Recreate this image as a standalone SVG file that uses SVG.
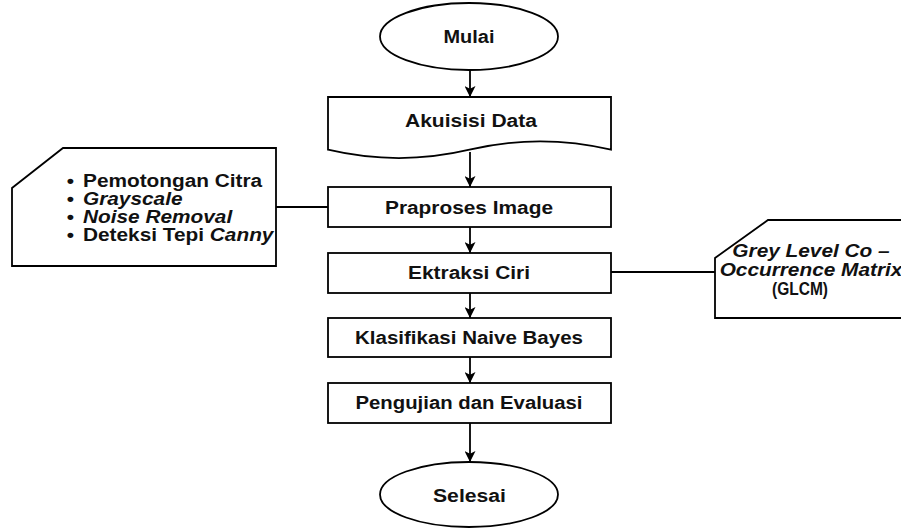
<svg xmlns="http://www.w3.org/2000/svg" width="901" height="529" viewBox="0 0 901 529">
<style>
.shape{fill:#fff;stroke:#000;stroke-width:1.8}
.lbl{font-family:"Liberation Sans",Arial,sans-serif;font-weight:bold;font-size:17.5px;fill:#111}
.mid{text-anchor:middle}
.conn{stroke:#000;stroke-width:1.8;fill:none}
</style>
<defs>
<marker id="arr" viewBox="0 0 10 10" refX="10" refY="5" markerWidth="11" markerHeight="11" markerUnits="userSpaceOnUse" orient="auto">
<path d="M0,0 L10,5 L0,10 L2.5,5 Z" fill="#000"/>
</marker>
</defs>
<rect width="901" height="529" fill="#fff"/>
<g id="connectors">
<line class="conn" x1="470" y1="70" x2="470" y2="97" marker-end="url(#arr)"/>
<line class="conn" x1="470" y1="152" x2="470" y2="187" marker-end="url(#arr)"/>
<line class="conn" x1="470" y1="227" x2="470" y2="253" marker-end="url(#arr)"/>
<line class="conn" x1="470" y1="293" x2="470" y2="318" marker-end="url(#arr)"/>
<line class="conn" x1="470" y1="357" x2="470" y2="383" marker-end="url(#arr)"/>
<line class="conn" x1="470" y1="423" x2="470" y2="462" marker-end="url(#arr)"/>
<line class="conn" x1="276" y1="207" x2="328" y2="207"/>
<line class="conn" x1="611" y1="272" x2="715" y2="272"/>
</g>
<g id="mulai">
<ellipse class="shape" cx="469" cy="36.5" rx="89" ry="33.5"/>
<text class="lbl mid" x="469" y="43" textLength="51" lengthAdjust="spacingAndGlyphs">Mulai</text>
</g>
<g id="akuisisi">
<path class="shape" d="M328,97 H611 V149.7 Q540,133 469.5,149.7 Q399,166.4 328,149.7 Z"/>
<text class="lbl mid" x="471" y="127" textLength="132" lengthAdjust="spacingAndGlyphs">Akuisisi Data</text>
</g>
<g id="praproses">
<rect class="shape" x="328" y="187" width="283" height="40"/>
<text class="lbl mid" x="469" y="214" textLength="168" lengthAdjust="spacingAndGlyphs">Praproses Image</text>
</g>
<g id="ektraksi">
<rect class="shape" x="328" y="253" width="283" height="40"/>
<text class="lbl mid" x="469" y="279" textLength="122" lengthAdjust="spacingAndGlyphs">Ektraksi Ciri</text>
</g>
<g id="klasifikasi">
<rect class="shape" x="328" y="318" width="283" height="39"/>
<text class="lbl mid" x="469" y="344" textLength="228" lengthAdjust="spacingAndGlyphs">Klasifikasi Naive Bayes</text>
</g>
<g id="pengujian">
<rect class="shape" x="328" y="383" width="283" height="40"/>
<text class="lbl mid" x="469" y="409" textLength="227" lengthAdjust="spacingAndGlyphs">Pengujian dan Evaluasi</text>
</g>
<g id="selesai">
<ellipse class="shape" cx="469" cy="494.5" rx="89" ry="32.5"/>
<text class="lbl mid" x="469.5" y="502" textLength="73" lengthAdjust="spacingAndGlyphs">Selesai</text>
</g>
<g id="praproses-note">
<path class="shape" d="M63,148 H276 V266 H12 V188 Z"/>
<g transform="translate(83,0) scale(1.19,1)">
<text class="lbl" x="-10.6" y="187" text-anchor="middle">•</text>
<text class="lbl" x="-10.6" y="205" text-anchor="middle">•</text>
<text class="lbl" x="-10.6" y="223" text-anchor="middle">•</text>
<text class="lbl" x="-10.6" y="241" text-anchor="middle">•</text>
<text class="lbl" x="0" y="187">Pemotongan Citra</text>
<text class="lbl" x="0" y="205" font-style="italic">Grayscale</text>
<text class="lbl" x="0" y="223" font-style="italic">Noise Removal</text>
<text class="lbl" x="0" y="241">Deteksi Tepi <tspan font-style="italic">Canny</tspan></text>
</g>
</g>
<g id="glcm-note">
<path class="shape" d="M768,220 H920 V318 H715 V258 Z"/>
<g transform="translate(811,0) scale(1.19,1)">
<text class="lbl mid" x="0" y="257" font-style="italic">Grey Level Co –</text>
<text class="lbl mid" x="0" y="276" font-style="italic">Occurrence Matrix</text>
</g>
<text class="lbl mid" x="800" y="295" textLength="56" lengthAdjust="spacingAndGlyphs">(GLCM)</text>
</g>
</svg>
